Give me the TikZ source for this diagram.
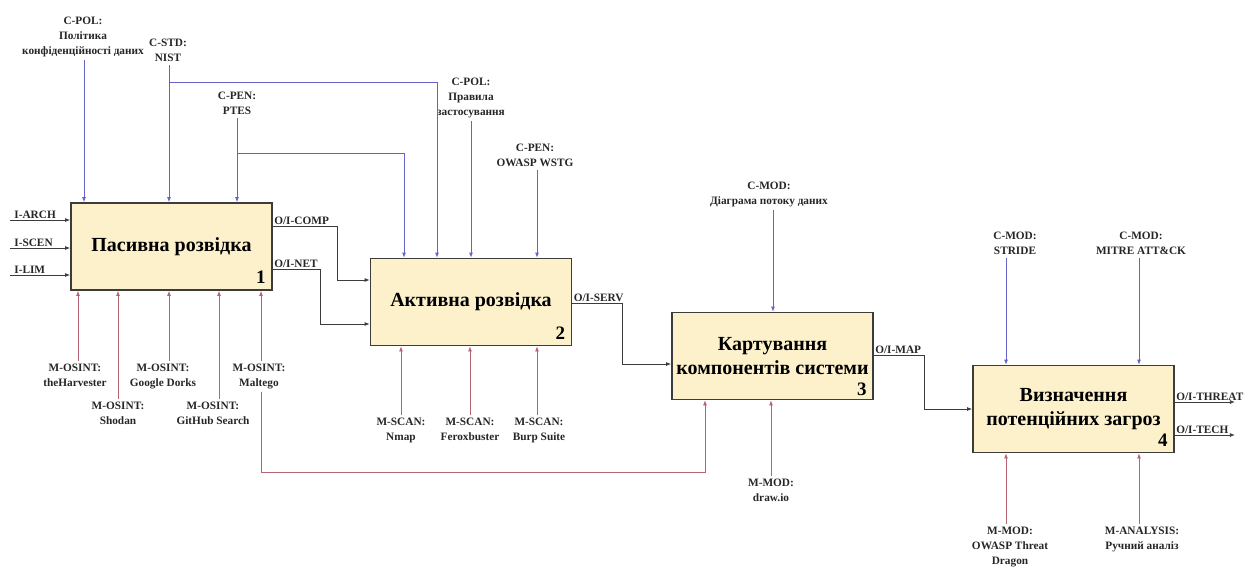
\documentclass[tikz,border=0pt]{standalone}
\usepackage{fontspec}
\setmainfont{Liberation Serif}
\usetikzlibrary{arrows.meta,calc}

\definecolor{boxfill}{RGB}{253,241,204}
\definecolor{boxline}{RGB}{60,60,60}
\definecolor{ctrlblue}{RGB}{100,100,200}
\definecolor{mechred}{RGB}{180,100,115}
\definecolor{flowgray}{RGB}{60,60,60}

\tikzset{
  func/.style={draw=boxline, line width=1.8pt, fill=boxfill, minimum width=201pt,
    minimum height=87pt, align=center, inner sep=0pt,
    font=\fontsize{20}{24}\selectfont\bfseries},
  fnum/.style={anchor=south east, inner sep=0pt, font=\fontsize{19}{19}\selectfont\bfseries},
  lbl/.style={align=center, inner sep=1pt, text=black!85,
    font=\fontsize{11.3}{15}\selectfont\bfseries},
  ctrl/.style={draw=ctrlblue, line width=0.8pt, shorten <=2pt, -{Latex[length=5pt,width=4pt]}},
  mech/.style={draw=mechred, line width=0.8pt, shorten <=2pt, -{Latex[length=5pt,width=4pt]}},
  flow/.style={draw=flowgray, line width=0.8pt, -{Latex[length=5pt,width=4pt]}},
}

\begin{document}
\begin{tikzpicture}[x=1pt,y=-1pt]
\useasboundingbox (0,0) rectangle (1248,571);

% function boxes
\node[func] (b1) at (171.5,246.5) {Пасивна розвідка};
\node[func] (b2) at (471,302) {Активна розвідка};
\node[func] (b3) at (772.5,356) {Картування\\компонентів системи};
\node[func] (b4) at (1073.5,409) {Визначення\\потенційних загроз};
\node[fnum] (n1) at ([xshift=-7pt,yshift=7pt]b1.south east) {1};
\node[fnum] (n2) at ([xshift=-7pt,yshift=7pt]b2.south east) {2};
\node[fnum] (n3) at ([xshift=-7pt,yshift=5pt]b3.south east) {3};
\node[fnum] (n4) at ([xshift=-7pt,yshift=7pt]b4.south east) {4};

% controls
\node[lbl, anchor=south] (cpolA) at (83,58) {C-POL:\\Політика\\конфіденційності даних};
\node[lbl, anchor=south] (cstd) at (168,63) {C-STD:\\NIST};
\node[lbl, anchor=south] (cptes) at (237,116) {C-PEN:\\PTES};
\node[lbl, anchor=south] (cpolB) at (471,119) {C-POL:\\Правила\\застосування};
\node[lbl, anchor=south] (cwstg) at (535,168) {C-PEN:\\OWASP WSTG};
\node[lbl, anchor=south] (cdfd) at (769,208) {C-MOD:\\Діаграма потоку даних};
\node[lbl, anchor=south] (cstride) at (1015,256) {C-MOD:\\STRIDE};
\node[lbl, anchor=south] (cmitre) at (1141,256) {C-MOD:\\MITRE ATT\&CK};

\coordinate (jstd) at (169,82);
\coordinate (jptes) at (237,153);

\draw[ctrl] ([xshift=1pt]cpolA.south) -- ([xshift=1pt]cpolA.south |- b1.north);
\draw[ctrl] ([xshift=1pt]cstd.south) -- ([xshift=1pt]cstd.south |- b1.north);
\draw[ctrl] (cptes.south) -- (cptes.south |- b1.north);
\draw[ctrl, shorten <=0pt] (jstd) -| ([xshift=-34pt]b2.north);
\draw[ctrl, shorten <=0pt] (jptes) -| ([xshift=-67pt]b2.north);
\draw[ctrl] (cpolB.south) -- (cpolB.south |- b2.north);
\draw[ctrl] ([xshift=2pt]cwstg.south) -- ([xshift=2pt]cwstg.south |- b2.north);
\draw[ctrl] ([xshift=4pt]cdfd.south) -- ([xshift=4pt]cdfd.south |- b3.north);
\draw[ctrl] ([xshift=-9pt]cstride.south) -- ([xshift=-9pt]cstride.south |- b4.north);
\draw[ctrl] ([xshift=-2pt]cmitre.south) -- ([xshift=-2pt]cmitre.south |- b4.north);

% mechanisms
\node[lbl, anchor=north] (mharv) at (75,363) {M-OSINT:\\theHarvester};
\node[lbl, anchor=north] (mshodan) at (118,401) {M-OSINT:\\Shodan};
\node[lbl, anchor=north] (mdorks) at (163,363) {M-OSINT:\\Google Dorks};
\node[lbl, anchor=north] (mgit) at (213,401) {M-OSINT:\\GitHub Search};
\node[lbl, anchor=north] (mmalt) at (259,363) {M-OSINT:\\Maltego};
\node[lbl, anchor=north] (mnmap) at (401,417) {M-SCAN:\\Nmap};
\node[lbl, anchor=north] (mferox) at (470,417) {M-SCAN:\\Feroxbuster};
\node[lbl, anchor=north] (mburp) at (539,417) {M-SCAN:\\Burp Suite};
\node[lbl, anchor=north] (mdrawio) at (771,478) {M-MOD:\\draw.io};
\node[lbl, anchor=north] (mdragon) at (1010,526) {M-MOD:\\OWASP Threat\\Dragon};
\node[lbl, anchor=north] (manal) at (1142,526) {M-ANALYSIS:\\Ручний аналіз};

\coordinate (jmalt) at (261,472);

\draw[mech] ([xshift=3pt]mharv.north) -- ([xshift=3pt]mharv.north |- b1.south);
\draw[mech] (mshodan.north) -- (mshodan.north |- b1.south);
\draw[mech] ([xshift=6pt]mdorks.north) -- ([xshift=6pt]mdorks.north |- b1.south);
\draw[mech] ([xshift=6pt]mgit.north) -- ([xshift=6pt]mgit.north |- b1.south);
\draw[mech] ([xshift=2pt]mmalt.north) -- ([xshift=2pt]mmalt.north |- b1.south);
\draw[mech] ([xshift=2pt]mmalt.south) -- (jmalt) -| ([xshift=-67.5pt]b3.south);
\draw[mech] (mnmap.north) -- (mnmap.north |- b2.south);
\draw[mech] (mferox.north) -- (mferox.north |- b2.south);
\draw[mech] ([xshift=-2pt]mburp.north) -- ([xshift=-2pt]mburp.north |- b2.south);
\draw[mech] (mdrawio.north) -- (mdrawio.north |- b3.south);
\draw[mech] ([xshift=-4pt]mdragon.north) -- ([xshift=-4pt]mdragon.north |- b4.south);
\draw[mech] ([xshift=-3pt]manal.north) -- ([xshift=-3pt]manal.north |- b4.south);

% inputs
\coordinate (iarch) at (10,220);
\coordinate (iscen) at (10,248);
\coordinate (ilim) at (10,275);
\draw[flow] (iarch) -- (iarch -| b1.west) node[lbl, pos=0, anchor=south west, xshift=3pt] (liarch) {I-ARCH};
\draw[flow] (iscen) -- (iscen -| b1.west) node[lbl, pos=0, anchor=south west, xshift=3pt] (liscen) {I-SCEN};
\draw[flow] (ilim) -- (ilim -| b1.west) node[lbl, pos=0, anchor=south west, xshift=3pt] (lilim) {I-LIM};

% outputs
\draw[flow] ([yshift=-24pt]b1.north east) node[lbl, anchor=south west] (locomp) {O/I-COMP}
  -- ++(64,0) |- ([yshift=22pt]b2.west);
\draw[flow] ([yshift=-22.5pt]b1.east) node[lbl, anchor=south west] (lonet) {O/I-NET}
  -- ++(47,0) |- ([yshift=-22pt]b2.west);
\draw[flow] ([yshift=-1pt]b2.east) node[lbl, anchor=south west] (loserv) {O/I-SERV}
  -- ++(50,0) |- ([yshift=-8pt]b3.west);
\draw[flow] ([yshift=1pt]b3.east) node[lbl, anchor=south west] (lomap) {O/I-MAP}
  -- ++(50,0) |- (b4.west);
\draw[flow] ([yshift=7pt]b4.east) node[lbl, anchor=south west] (lothreat) {O/I-THREAT}
  -- ++(60,0);
\draw[flow] ([yshift=-26pt]b4.east) node[lbl, anchor=south west] (lotech) {O/I-TECH}
  -- ++(60,0);

\end{tikzpicture}
\end{document}
